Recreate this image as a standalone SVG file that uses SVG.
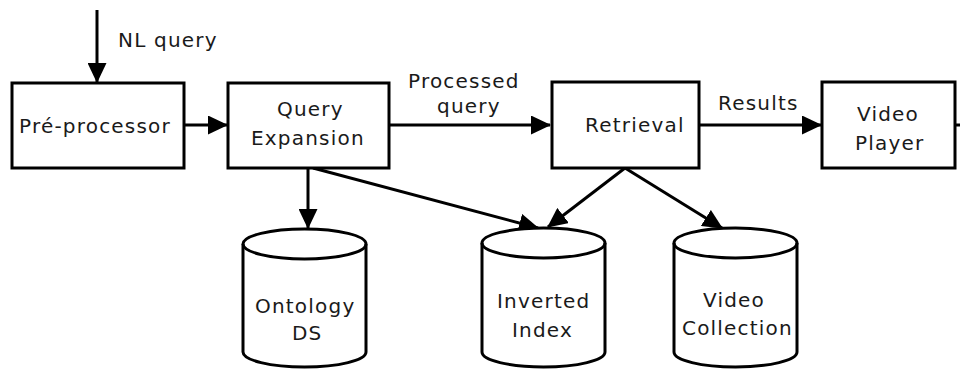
<svg xmlns="http://www.w3.org/2000/svg" width="960" height="369" viewBox="0 0 960 369">
<style>
.box{fill:#fff;stroke:#000;stroke-width:3}
.cyl{fill:#fff;stroke:#000;stroke-width:3}
.lbl{font-family:"DejaVu Sans",sans-serif;font-size:20px;letter-spacing:1.2px;fill:#1a1a1a}
.edge{fill:none;stroke:#000;stroke-width:3;marker-end:url(#ah)}
.plain{fill:none;stroke:#000;stroke-width:3}
</style>
<defs>
<marker id="ah" viewBox="0 0 20 19" refX="19" refY="9.5" markerWidth="20" markerHeight="19" markerUnits="userSpaceOnUse" orient="auto">
<path d="M0,0 L20,9.5 L0,19 Z" fill="#000"/>
</marker>
</defs>
<rect width="960" height="369" fill="#fff"/>
<g id="connectors">
<line class="edge" x1="97" y1="10" x2="97" y2="82"/>
<line class="edge" x1="184" y1="125" x2="227" y2="125"/>
<line class="edge" x1="389" y1="125" x2="550" y2="125"/>
<line class="edge" x1="699" y1="125" x2="821" y2="125"/>
<line class="plain" x1="955" y1="125" x2="960" y2="125"/>
<line class="edge" x1="308" y1="168" x2="308" y2="228"/>
<line class="edge" x1="313" y1="168" x2="538" y2="228"/>
<line class="edge" x1="625" y1="168" x2="548" y2="227"/>
<line class="edge" x1="625" y1="168" x2="722" y2="228"/>
<text class="lbl" x="118" y="47">NL query</text>
<text class="lbl" x="408" y="88">Processed</text>
<text class="lbl" x="437" y="113">query</text>
<text class="lbl" x="718" y="110">Results</text>
</g>
<g id="preprocessor">
<rect class="box" x="12" y="83" width="172" height="85"/>
<text class="lbl" x="19" y="133">Pré-processor</text>
</g>
<g id="query-expansion">
<rect class="box" x="228" y="83" width="161" height="85"/>
<text class="lbl" x="277" y="116">Query</text>
<text class="lbl" x="251" y="145">Expansion</text>
</g>
<g id="retrieval">
<rect class="box" x="552" y="82" width="147" height="86"/>
<text class="lbl" x="585" y="132">Retrieval</text>
</g>
<g id="video-player">
<rect class="box" x="822" y="82" width="133" height="86"/>
<text class="lbl" x="857" y="121">Video</text>
<text class="lbl" x="855" y="150">Player</text>
</g>
<g id="ontology-ds">
<path class="cyl" d="M243,244 L243,352 A61.5,15 0 0 0 366,352 L366,244 A61.5,15 0 0 0 243,244 Z"/>
<path class="plain" d="M243,244 A61.5,15 0 0 0 366,244"/>
<text class="lbl" x="255" y="313">Ontology</text>
<text class="lbl" x="292" y="340">DS</text>
</g>
<g id="inverted-index">
<path class="cyl" d="M482,243 L482,352 A61.5,15 0 0 0 605,352 L605,243 A61.5,15 0 0 0 482,243 Z"/>
<path class="plain" d="M482,243 A61.5,15 0 0 0 605,243"/>
<text class="lbl" x="497" y="308">Inverted</text>
<text class="lbl" x="512" y="337">Index</text>
</g>
<g id="video-collection">
<path class="cyl" d="M674,243 L674,352 A61.5,15 0 0 0 797,352 L797,243 A61.5,15 0 0 0 674,243 Z"/>
<path class="plain" d="M674,243 A61.5,15 0 0 0 797,243"/>
<text class="lbl" x="703" y="307">Video</text>
<text class="lbl" x="682" y="335">Collection</text>
</g>
</svg>
